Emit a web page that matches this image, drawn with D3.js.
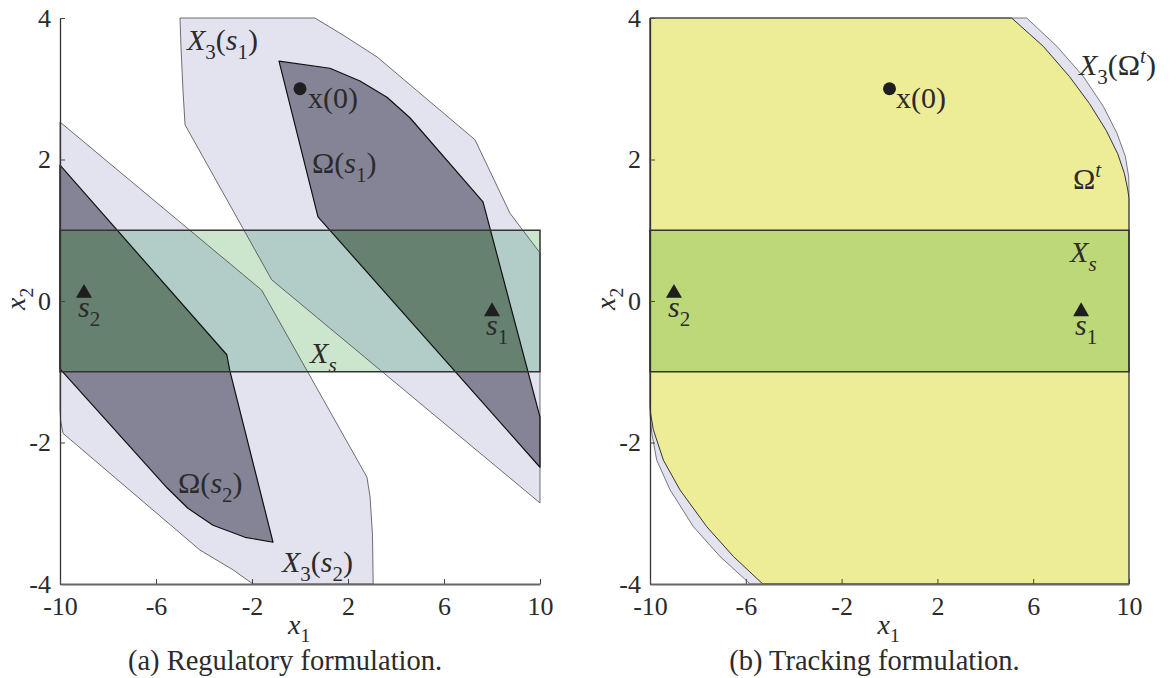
<!DOCTYPE html>
<html>
<head>
<meta charset="utf-8">
<script src="https://cdn.jsdelivr.net/npm/d3@7"></script>
<style>
  body { margin: 0; background: #fff; }
  svg { display: block; }
  text { font-family: "Liberation Serif", "DejaVu Serif", serif; }
</style>
</head>
<body>
<script>
// axis values
const xDomain = [-10, 10];
const yDomain = [-4, 4];
const xTicks = [-10, -6, -2, 2, 6, 10];
const yTicks = [-4, -2, 0, 2, 4];

// (a) regulatory formulation: sets in (x1, x2)
const xsBox = [[-10, 1], [10, 1], [10, -1], [-10, -1]];
const x3s1 = [[-5, 4], [0.62, 4], [1.79, 3.76], [3.21, 3.45], [7.29, 2.28], [8.75, 1.24], [10, 0.68],
  [10, -2.855], [-1.18, 0.30], [-4.79, 2.49], [-4.88, 3.0], [-4.96, 3.6]];
const x3s2 = [[-10, 2.53], [-1.6, 0.155], [2.79, -2.49], [2.92, -2.77], [3.02, -3.3], [3.05, -4],
  [-1.96, -4], [-2.79, -3.80], [-4.17, -3.52], [-9.875, -1.87], [-9.97, -1.7], [-10, -1.54]];
const omegaS1 = [[-0.875, 3.39], [1.25, 3.29], [2.5, 3.11], [3.625, 2.88], [4.58, 2.59], [7.625, 1.40],
  [10, -1.64], [10, -2.35], [0.75, 1.19]];
const omegaS2 = [[-10, 1.92], [-3.05, -0.76], [-2.92, -0.99], [-1.125, -3.41], [-2.29, -3.34],
  [-3.625, -3.17], [-4.67, -2.93], [-5.54, -2.64], [-10, -0.96]];

// (b) tracking formulation
const omegaT = [[-10, 4], [5.10, 4], [6.42, 3.60], [7.52, 3.17], [8.35, 2.79], [9.05, 2.41], [9.53, 2.08],
  [9.81, 1.80], [9.95, 1.57], [10, 1.45], [10, -4], [-5.29, -4], [-6.52, -3.61], [-7.63, -3.19],
  [-8.75, -2.67], [-9.44, -2.25], [-9.86, -1.82], [-9.97, -1.6], [-10, -1.49]];
const x3OmegaT = [[-10, 4], [5.73, 4], [6.99, 3.60], [8.10, 3.17], [8.93, 2.75], [9.50, 2.37], [9.85, 2.04],
  [9.99, 1.75], [10, 1.55], [10, -4], [-5.82, -4], [-7.08, -3.61], [-8.19, -3.19], [-9.16, -2.67],
  [-9.72, -2.25], [-9.93, -1.86], [-10, -1.6]];

// points
const x0 = [0, 3];
const s1 = [8, -0.15];
const s2 = [-9, 0.11];

let width = 1176, height = 678;
let svg = d3.select("body").append("svg").attr("width", width).attr("height", height);
let defs = svg.append("defs");

const serif = '"Liberation Serif", "DejaVu Serif", serif';
const ink = "#2b2b2b";

// text with sub/superscripts, kinds: r roman, i italic, sb sub roman, sbi sub italic, spi sup italic
function math(g, x, y, segs, size) {
    let t = g.append("text").attr("x", x).attr("y", y)
        .attr("font-family", serif).style("fill", ink).style("font-size", size + "px");
    let off = 0;
    segs.forEach(([s, k]) => {
        let small = k.startsWith("sb") || k.startsWith("sp");
        let target = k.startsWith("sb") ? size * 0.3 : k.startsWith("sp") ? -size * 0.4 : 0;
        t.append("tspan").text(s)
            .attr("dy", target - off)
            .style("font-size", (small ? size * 0.7 : size) + "px")
            .style("font-style", k.includes("i") ? "italic" : "normal");
        off = target;
    });
    return t;
}

function panel(id, left, right, layers, labels, caption) {
    let xScale = d3.scaleLinear().domain(xDomain).range([left, right]);
    let yScale = d3.scaleLinear().domain(yDomain).range([584, 18]);
    let line = d3.line().x(d => xScale(d[0])).y(d => yScale(d[1]));
    let poly = pts => line(pts) + "Z";

    defs.append("clipPath").attr("id", "clip-" + id).append("path").attr("d", poly(xsBox));

    let g = svg.append("g");

    // fills
    layers.forEach(l => g.append("path").attr("d", poly(l.pts)).attr("fill", l.fill));
    g.append("path").attr("d", poly(xsBox)).attr("fill", "#cbe6cc");
    let inside = g.append("g").attr("clip-path", "url(#clip-" + id + ")");
    layers.forEach(l => inside.append("path").attr("d", poly(l.pts)).attr("fill", l.inXs));

    // outlines
    layers.forEach(l => g.append("path").attr("d", poly(l.pts)).attr("fill", "none")
        .attr("stroke", l.stroke).attr("stroke-width", l.sw).attr("stroke-linejoin", "round"));
    g.append("path").attr("d", poly(xsBox)).attr("fill", "none").attr("stroke", "#333").attr("stroke-width", 1.5);

    // axes
    let yAxis = g.append("g").attr("transform", "translate(" + left + ",0)")
        .call(d3.axisLeft(yScale).tickValues(yTicks).tickFormat(d => String(d))
            .tickSizeInner(-5).tickSizeOuter(0).tickPadding(9));
    let xAxis = g.append("g").attr("transform", "translate(0,584)")
        .call(d3.axisBottom(xScale).tickValues(xTicks).tickFormat(d => String(d))
            .tickSizeInner(-5).tickSizeOuter(0).tickPadding(13));
    [yAxis, xAxis].forEach(a => {
        a.attr("font-family", serif).attr("font-size", 26);
        a.selectAll("text").style("fill", ink);
        a.selectAll("line").attr("stroke", "#444");
    });
    yAxis.select(".domain").attr("stroke", "#333").attr("stroke-width", 1.3);
    xAxis.select(".domain").attr("stroke", "#666").attr("stroke-width", 1.8);

    // markers
    g.append("circle").attr("cx", xScale(x0[0])).attr("cy", yScale(x0[1])).attr("r", 6.5).attr("fill", "#1e1e1e");
    [s1, s2].forEach(p => g.append("path")
        .attr("d", d3.symbol(d3.symbolTriangle, 111)())
        .attr("transform", "translate(" + xScale(p[0]) + "," + yScale(p[1]) + ")")
        .attr("fill", "#1e1e1e"));

    // labels
    labels.forEach(l => math(g, xScale(l.at[0]), yScale(l.at[1]), l.segs, l.size || 30));

    let mid = (left + right) / 2;
    math(g, mid - 12, 634, [["x", "i"], ["1", "sb"]], 28);
    math(g, 0, 0, [["x", "i"], ["2", "sb"]], 28)
        .attr("transform", "translate(" + (left - 35) + ",310) rotate(-90)");
    svg.append("text").attr("x", mid - 15).attr("y", 670).attr("text-anchor", "middle")
        .attr("font-family", serif).style("font-size", "28.5px").style("fill", ink).text(caption);
}

const lav = "#e3e3f0", lavXs = "#b2cdc8";
const dark = "#858497", darkXs = "#66816f";
const yel = "#eded97", yelXs = "#bdd878";

panel("a", 60, 540,
    [
        {pts: x3s1, fill: lav, inXs: lavXs, stroke: "#333", sw: 0.7},
        {pts: x3s2, fill: lav, inXs: lavXs, stroke: "#333", sw: 0.7},
        {pts: omegaS1, fill: dark, inXs: darkXs, stroke: "#111", sw: 1.2},
        {pts: omegaS2, fill: dark, inXs: darkXs, stroke: "#111", sw: 1.2}
    ],
    [
        {at: [-4.71, 3.55], segs: [["X", "i"], ["3", "sb"], ["(", "r"], ["s", "i"], ["1", "sb"], [")", "r"]]},
        {at: [0.33, 2.73], segs: [["x(0)", "r"]]},
        {at: [0.5, 1.81], segs: [["Ω(", "r"], ["s", "i"], ["1", "sb"], [")", "r"]]},
        {at: [-5.08, -2.71], segs: [["Ω(", "r"], ["s", "i"], ["2", "sb"], [")", "r"]]},
        {at: [-0.75, -3.83], segs: [["X", "i"], ["3", "sb"], ["(", "r"], ["s", "i"], ["2", "sb"], [")", "r"]]},
        {at: [0.42, -0.88], segs: [["X", "i"], ["s", "sbi"]]},
        {at: [-9.25, -0.23], segs: [["s", "i"], ["2", "sb"]]},
        {at: [7.75, -0.48], segs: [["s", "i"], ["1", "sb"]]}
    ],
    "(a) Regulatory formulation.");

panel("b", 650, 1129,
    [
        {pts: x3OmegaT, fill: lav, inXs: lavXs, stroke: "#444", sw: 0.7},
        {pts: omegaT, fill: yel, inXs: yelXs, stroke: "#333", sw: 1}
    ],
    [
        {at: [7.91, 3.19], segs: [["X", "i"], ["3", "sb"], ["(Ω", "r"], ["t", "spi"], [")", "r"]]},
        {at: [7.66, 1.58], segs: [["Ω", "r"], ["t", "spi"]]},
        {at: [7.54, 0.55], segs: [["X", "i"], ["s", "sbi"]]},
        {at: [0.27, 2.73], segs: [["x(0)", "r"]]},
        {at: [-9.25, -0.23], segs: [["s", "i"], ["2", "sb"]]},
        {at: [7.75, -0.48], segs: [["s", "i"], ["1", "sb"]]}
    ],
    "(b) Tracking formulation.");
</script>
</body>
</html>
